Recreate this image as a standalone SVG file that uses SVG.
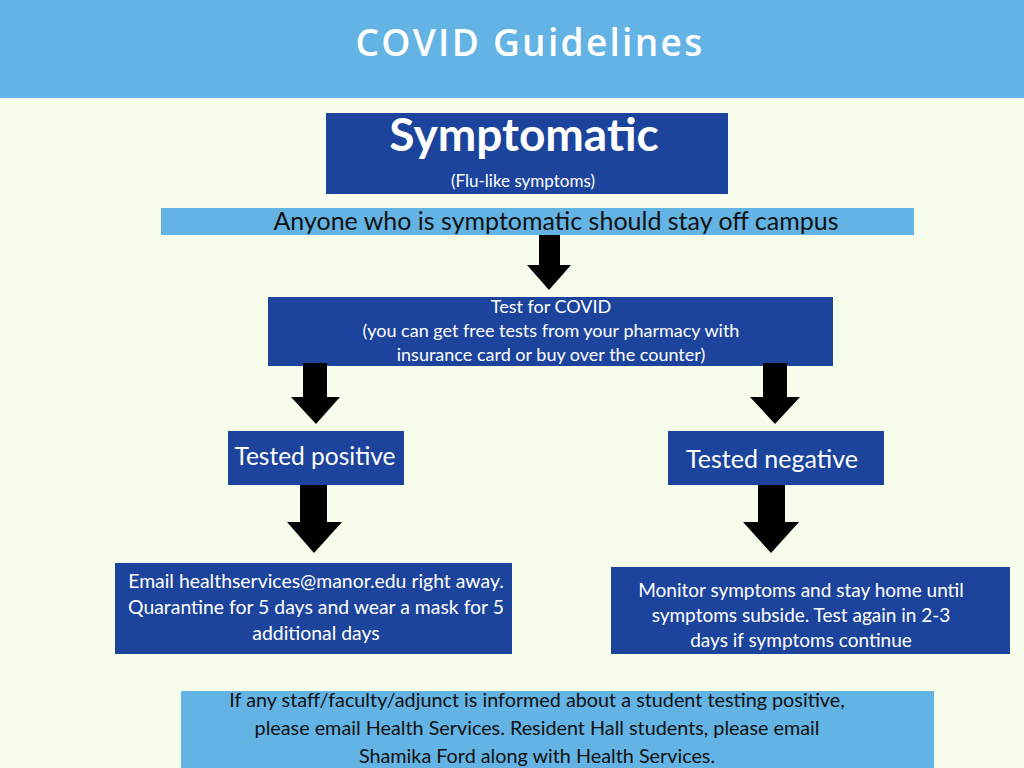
<svg xmlns="http://www.w3.org/2000/svg" width="1024" height="768" viewBox="0 0 1024 768">
<style>
.bg{fill:#f6feeb}
.light{fill:#63b3e4}
.dark{fill:#1c449c}
.w{fill:#ffffff;font-family:Lato,"Open Sans",sans-serif;text-anchor:middle}
.k{fill:#111111;font-family:Lato,"Open Sans",sans-serif;text-anchor:middle}
.arrow{fill:#000000}
</style>
<rect class="bg" x="0" y="0" width="1024" height="768"/>
<g id="header">
<rect class="light" x="0" y="0" width="1024" height="98"/>
<text class="w" x="530" y="56" font-size="37" font-weight="600" letter-spacing="2.3" style="font-family:'Open Sans',sans-serif">COVID Guidelines</text>
</g>
<g id="symptomatic">
<rect class="dark" x="326" y="113" width="402" height="81"/>
<text class="w" x="524" y="151" font-size="46" font-weight="bold">Symptomatic</text>
<text class="w" x="523" y="187" font-size="17">(Flu-like symptoms)</text>
</g>
<g id="stay-off">
<rect class="light" x="161" y="208" width="753" height="27"/>
<text class="k" x="556" y="230" font-size="25">Anyone who is symptomatic should stay off campus</text>
</g>
<g id="test">
<rect class="dark" x="268" y="297" width="565" height="69"/>
<text class="w" x="551" y="313" font-size="18">Test for COVID</text>
<text class="w" x="551" y="337" font-size="18">(you can get free tests from your pharmacy with</text>
<text class="w" x="551" y="361" font-size="18">insurance card or buy over the counter)</text>
</g>
<g id="positive">
<rect class="dark" x="228" y="431" width="176" height="54"/>
<text class="w" x="315" y="465" font-size="24.5">Tested positive</text>
</g>
<g id="negative">
<rect class="dark" x="668" y="431" width="216" height="54"/>
<text class="w" x="772" y="468" font-size="25">Tested negative</text>
</g>
<g id="positive-action">
<rect class="dark" x="115" y="563" width="397" height="91"/>
<text class="w" x="316" y="588" font-size="19.4">Email healthservices@manor.edu right away.</text>
<text class="w" x="316" y="614" font-size="19.4">Quarantine for 5 days and wear a mask for 5</text>
<text class="w" x="316" y="640" font-size="19.4">additional days</text>
</g>
<g id="negative-action">
<rect class="dark" x="611" y="567" width="399" height="87"/>
<text class="w" x="801" y="597" font-size="19">Monitor symptoms and stay home until</text>
<text class="w" x="801" y="622" font-size="19">symptoms subside. Test again in 2-3</text>
<text class="w" x="801" y="647" font-size="19">days if symptoms continue</text>
</g>
<g id="staff-note">
<rect class="light" x="181" y="691" width="753" height="77"/>
<text class="k" x="537" y="707" font-size="19.8">If any staff/faculty/adjunct is informed about a student testing positive,</text>
<text class="k" x="537" y="735" font-size="19.8">please email Health Services. Resident Hall students, please email</text>
<text class="k" x="537" y="763" font-size="19.8">Shamika Ford along with Health Services.</text>
</g>
<g id="connectors">
<path class="arrow" d="M539 235 H560 V265 H571 L549 290 L527 265 H539 Z"/>
<path class="arrow" d="M303 363 H327 V397 H340 L316 424 L291 397 H303 Z"/>
<path class="arrow" d="M763 363 H787 V397 H800 L775 424 L750 397 H763 Z"/>
<path class="arrow" d="M300 485 H327 V522 H342 L314 553 L287 522 H300 Z"/>
<path class="arrow" d="M758 485 H785 V522 H799 L771 553 L743 522 H758 Z"/>
</g>
</svg>
